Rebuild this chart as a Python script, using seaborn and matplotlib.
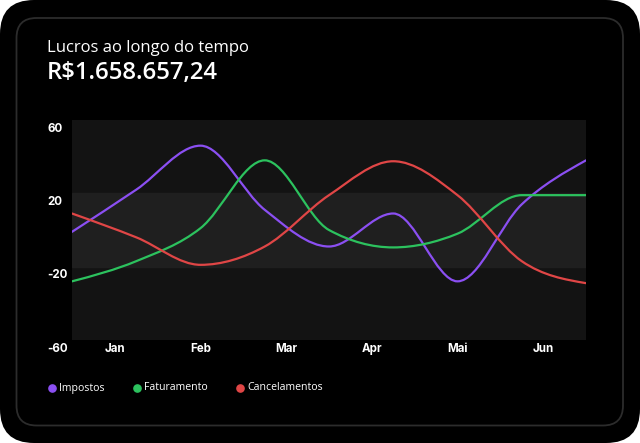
import numpy as np
import pandas as pd
import seaborn as sns
import matplotlib
matplotlib.use("Agg")
import matplotlib.pyplot as plt
from matplotlib.path import Path
from matplotlib.patches import PathPatch, FancyBboxPatch
from matplotlib.lines import Line2D
from matplotlib.transforms import ScaledTranslation

# ---------------- data ----------------
months = ["Jan", "Feb", "Mar", "Apr", "Mai", "Jun"]
series_names = ["Impostos", "Faturamento", "Cancelamentos"]
impostos = [-1, 22, 46, 11, -9, 9, -28, 14, 38]
faturamento = [-28, -17, 1, 38, 0, -9.5, -2, 19, 19]
cancelamentos = [9, -4, -19, -9, 19, 37.5, 19, -17, -29]
y_ticks = [60, 20, -20, -60]
title = "Lucros ao longo do tempo"
total = "R$1.658.657,24"

colors = ["#8b4ff2", "#2cc25e", "#e04646"]

# ---------------- table ----------------
steps = np.arange(len(impostos))
df = pd.concat([
    pd.DataFrame({"step": steps, "valor": vals, "serie": name})
    for name, vals in zip(series_names, [impostos, faturamento, cancelamentos])
])

sns.set_theme(style="dark")
plt.rcParams["font.family"] = ["Open Sans", "DejaVu Sans"]

W, H = 640, 443
fig = plt.figure(figsize=(W / 100, H / 100), dpi=100, facecolor="white")

# device-like rounded black background with inner border
fig.patches.append(FancyBboxPatch((0, 0), W / 100, H / 100,
                                  boxstyle="round,pad=0,rounding_size=0.34",
                                  transform=fig.dpi_scale_trans, facecolor="black",
                                  edgecolor="none", zorder=-10))
fig.patches.append(FancyBboxPatch((0.165, 0.175), 6.065, 4.075,
                                  boxstyle="round,pad=0,rounding_size=0.2",
                                  transform=fig.dpi_scale_trans, facecolor="none",
                                  edgecolor="#2c2c2c", linewidth=1.3, zorder=-9))

ax = fig.add_axes([72 / W, (H - 340) / H, 514 / W, 220 / H])
ax.set_zorder(1)
ax.set_facecolor("#131313")

sns.lineplot(data=df, x="step", y="valor", hue="serie", hue_order=series_names,
             palette=colors, ax=ax, legend=False, linewidth=1.6)

ax.set_xlim(steps[0], steps[-1])
ax.set_ylim(min(y_ticks), max(y_ticks))
ax.axhspan(y_ticks[2], y_ticks[1], color="#1f1f1f", zorder=0)


def monotone_path(x, y):
    """Smooth monotone cubic (d3 curveMonotoneX style) Bezier path through points."""
    x = np.asarray(x, float)
    y = np.asarray(y, float)
    n = len(x)
    h = np.diff(x)
    s = np.diff(y) / h
    t = np.zeros(n)
    for i in range(1, n - 1):
        s0, s1 = s[i - 1], s[i]
        p = (s0 * h[i] + s1 * h[i - 1]) / (h[i - 1] + h[i])
        t[i] = (np.sign(s0) + np.sign(s1)) * min(abs(s0), abs(s1), 0.5 * abs(p))
    t[0] = (3 * s[0] - t[1]) / 2
    t[-1] = (3 * s[-1] - t[-2]) / 2
    verts = [(x[0], y[0])]
    codes = [Path.MOVETO]
    for i in range(n - 1):
        dx = h[i] / 3
        verts += [(x[i] + dx, y[i] + dx * t[i]),
                  (x[i + 1] - dx, y[i + 1] - dx * t[i + 1]),
                  (x[i + 1], y[i + 1])]
        codes += [Path.CURVE4] * 3
    return Path(verts, codes)


for line in list(ax.lines):
    xy = line.get_xydata()
    patch = PathPatch(monotone_path(xy[:, 0], xy[:, 1]), facecolor="none",
                      edgecolor=line.get_color(), linewidth=1.6, zorder=3,
                      capstyle="round", joinstyle="round")
    ax.add_patch(patch)
    line.set_visible(False)

# ticks
nm = len(months)
span = steps[-1] - steps[0]
ax.set_xticks([steps[0] + span * (2 * k + 1) / (2 * nm) for k in range(nm)])
ax.set_xticklabels(months)
ax.set_yticks(y_ticks)
ax.set_yticklabels([str(v) for v in y_ticks])
ax.tick_params(axis="both", length=0, colors="white")
ax.tick_params(axis="y", pad=18)
ax.tick_params(axis="x", pad=2)
for lab in ax.get_yticklabels():
    lab.set_horizontalalignment("left")
    lab.set_fontfamily(["Inter", "DejaVu Sans"])
    lab.set_fontweight("bold")
    lab.set_fontsize(8.3)
    lab.set_transform(lab.get_transform() + ScaledTranslation(0, -0.07, fig.dpi_scale_trans))
for lab in ax.get_xticklabels():
    lab.set_fontfamily(["Inter", "DejaVu Sans"])
    lab.set_fontweight("bold")
    lab.set_fontsize(8.3)
ax.set_xlabel("")
ax.set_ylabel("")
ax.grid(False)
for sp in ax.spines.values():
    sp.set_visible(False)

# titles
fig.text(47 / W, 1 - 48 / H, title, color="white", fontsize=12, va="center", ha="left")
fig.text(47 / W, 1 - 73 / H, total, color="white", fontsize=17.2, fontweight="semibold",
         va="center", ha="left")

# legend
legend_x = [52, 137, 240]
for name, col, lx in zip(series_names, colors, legend_x):
    fig.add_artist(Line2D([lx / W], [1 - 388 / H], marker="o", markersize=5.2,
                          color=col, linestyle="none", transform=fig.transFigure))
    fig.text((lx + 7) / W, 1 - 388 / H, name, color="white", fontsize=7.6,
             va="center", ha="left")

fig.savefig("out.png", dpi=100, facecolor=fig.get_facecolor())
